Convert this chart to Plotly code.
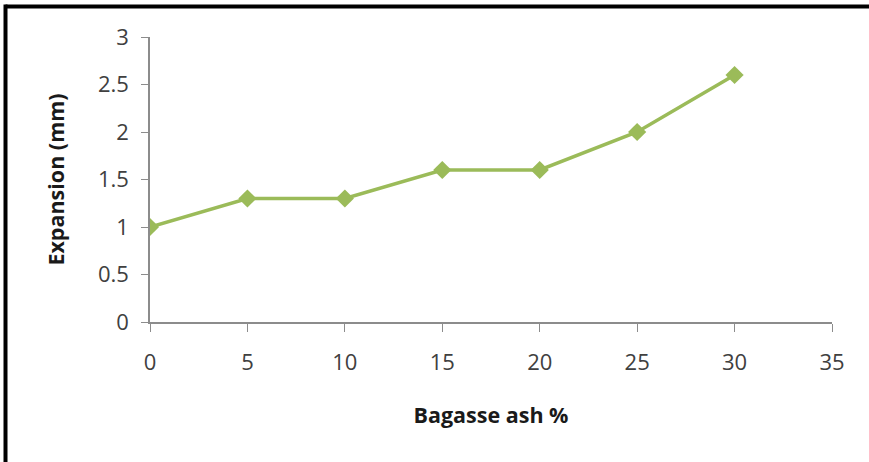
import plotly.graph_objects as go

# Expansion measured at each bagasse ash replacement level
ash_pct = [0, 5, 10, 15, 20, 25, 30]
expansion_mm = [1.0, 1.3, 1.3, 1.6, 1.6, 2.0, 2.6]

x_ticks = [0, 5, 10, 15, 20, 25, 30, 35]
y_ticks = [0, 0.5, 1, 1.5, 2, 2.5, 3]
y_tick_text = ["0", "0.5", "1", "1.5", "2", "2.5", "3"]

W, H = 869, 462
ML, MR, MT, MB = 150, 37, 37, 140
PW, PH = W - ML - MR, H - MT - MB

line_color = "#9BBB59"
axis_color = "#8c8c8c"
font_family = "Open Sans, Lato, sans-serif"

fig = go.Figure()
fig.add_trace(go.Scatter(
    x=ash_pct, y=expansion_mm,
    mode="lines+markers",
    line=dict(color=line_color, width=3.5),
    marker=dict(symbol="diamond", size=14, color=line_color),
    showlegend=False,
))


def px_x(p):
    return (p - ML) / PW


def px_y(p):
    return (H - MB - p) / PH


# frame lines along the top and left edges of the figure
frame = dict(color="black", width=4)
fig.add_shape(type="line", xref="paper", yref="paper",
              x0=px_x(5.5), x1=px_x(W + 5), y0=px_y(6.5), y1=px_y(6.5), line=frame)
fig.add_shape(type="line", xref="paper", yref="paper",
              x0=px_x(5.5), x1=px_x(5.5), y0=px_y(4.5), y1=px_y(H + 5), line=frame)

fig.update_layout(
    width=W, height=H,
    margin=dict(l=ML, r=MR, t=MT, b=MB, pad=0),
    paper_bgcolor="white", plot_bgcolor="white",
    font=dict(family=font_family, size=22, color="#404040"),
    xaxis=dict(
        range=[0, 35], tickvals=x_ticks, showgrid=False, zeroline=False,
        showline=True, linecolor=axis_color, linewidth=1.5,
        ticks="outside", ticklen=8, tickcolor=axis_color, tickwidth=1,
        ticklabelstandoff=12,
        tickfont=dict(size=22, color="#404040"),
        title=dict(text="<b>Bagasse ash %</b>", standoff=33,
                   font=dict(size=21.5, color="#1a1a1a")),
    ),
    yaxis=dict(
        range=[0, 3], tickvals=y_ticks, ticktext=y_tick_text,
        showgrid=False, zeroline=False,
        showline=True, linecolor=axis_color, linewidth=1.5,
        ticks="outside", ticklen=7, tickcolor=axis_color, tickwidth=1,
        ticklabelstandoff=8,
        tickfont=dict(size=22, color="#404040"),
        title=dict(text="<b>Expansion (mm)</b>", standoff=27,
                   font=dict(size=21.5, color="#1a1a1a")),
    ),
)

fig.write_html("out.html")
